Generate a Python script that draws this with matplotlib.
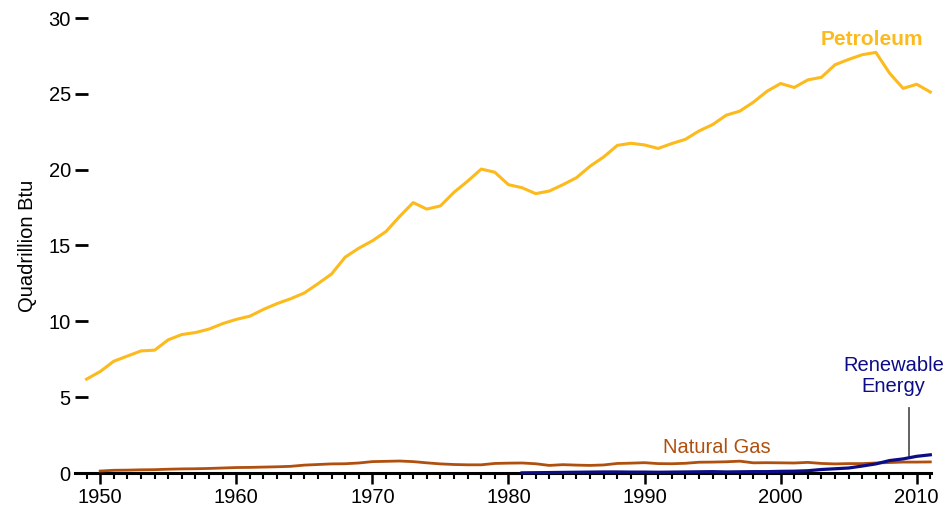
import numpy as np
import matplotlib.pyplot as plt
from matplotlib.ticker import MultipleLocator

plt.rcParams['font.family'] = ['Liberation Sans', 'DejaVu Sans']

years = list(range(1949, 2012))

petroleum = [6.19, 6.69, 7.37, 7.71, 8.05, 8.10, 8.78, 9.13, 9.26, 9.49,
             9.85, 10.13, 10.34, 10.79, 11.17, 11.49, 11.87, 12.48, 13.12, 14.23,
             14.82, 15.31, 15.92, 16.91, 17.83, 17.40, 17.61, 18.51, 19.24, 20.04,
             19.83, 19.01, 18.81, 18.42, 18.59, 19.01, 19.47, 20.23, 20.84, 21.60,
             21.74, 21.63, 21.40, 21.72, 22.00, 22.55, 22.97, 23.59, 23.86, 24.45,
             25.17, 25.68, 25.42, 25.92, 26.09, 26.92, 27.27, 27.58, 27.73, 26.37,
             25.36, 25.63, 25.12]

gas_years = list(range(1950, 2012))
natural_gas = [0.13, 0.18, 0.19, 0.21, 0.22, 0.25, 0.27, 0.28, 0.30, 0.33,
               0.36, 0.37, 0.39, 0.41, 0.44, 0.52, 0.56, 0.60, 0.61, 0.66,
               0.75, 0.77, 0.79, 0.75, 0.67, 0.60, 0.56, 0.54, 0.54, 0.63,
               0.65, 0.66, 0.61, 0.50, 0.55, 0.52, 0.50, 0.53, 0.63, 0.65,
               0.68, 0.62, 0.61, 0.64, 0.71, 0.72, 0.74, 0.78, 0.67, 0.68,
               0.67, 0.66, 0.70, 0.63, 0.60, 0.62, 0.62, 0.66, 0.69, 0.72,
               0.72, 0.73]

ren_years = list(range(1981, 2012))
renewable = [0.01, 0.02, 0.03, 0.04, 0.05, 0.06, 0.07, 0.07, 0.06, 0.06,
             0.05, 0.06, 0.07, 0.08, 0.09, 0.07, 0.08, 0.09, 0.09, 0.11,
             0.12, 0.15, 0.23, 0.28, 0.33, 0.46, 0.60, 0.82, 0.93, 1.10,
             1.20]

c_pet = '#FCBA1C'
c_gas = '#B0500F'
c_ren = '#0C0C86'

fig = plt.figure(figsize=(9.51, 5.11), dpi=100)
ax = fig.add_axes([75 / 951, 38 / 511, 856 / 951, 455 / 511])

ax.plot(years, petroleum, color=c_pet, lw=2.2, zorder=3, clip_on=False)
ax.plot(gas_years, natural_gas, color=c_gas, lw=2.0, zorder=3, clip_on=False)
ax.plot(ren_years, renewable, color=c_ren, lw=2.3, zorder=4, clip_on=False)

ax.set_xlim(1948.15, 2011.05)
ax.set_ylim(0, 30)

for s in ['top', 'right', 'left']:
    ax.spines[s].set_visible(False)
ax.spines['bottom'].set_linewidth(2.2)

ax.yaxis.set_major_locator(MultipleLocator(5))
ax.tick_params(axis='y', direction='in', length=9, width=2, pad=3, labelsize=14.5)
ax.xaxis.set_major_locator(MultipleLocator(10))
ax.xaxis.set_minor_locator(MultipleLocator(1))
ax.tick_params(axis='x', which='major', direction='out', length=8, width=1.8, pad=3, labelsize=14.5)
ax.tick_params(axis='x', which='minor', direction='out', length=4.5, width=1.5)

ax.set_ylabel('Quadrillion Btu', fontsize=14.5, labelpad=8)

ax.text(2006.7, 28.55, 'Petroleum', color=c_pet, fontsize=15, fontweight='bold',
        ha='center', va='center')
ax.text(1995.3, 1.65, 'Natural Gas', color=c_gas, fontsize=14.5, ha='center', va='center')
ax.text(2008.3, 6.4, 'Renewable\nEnergy', color=c_ren, fontsize=14.5, ha='center',
        va='center', linespacing=1.1, clip_on=False)
ax.plot([2009.4, 2009.4], [1.05, 4.28], color='#555555', lw=1.3, zorder=2)

fig.savefig('out.png', dpi=100)
